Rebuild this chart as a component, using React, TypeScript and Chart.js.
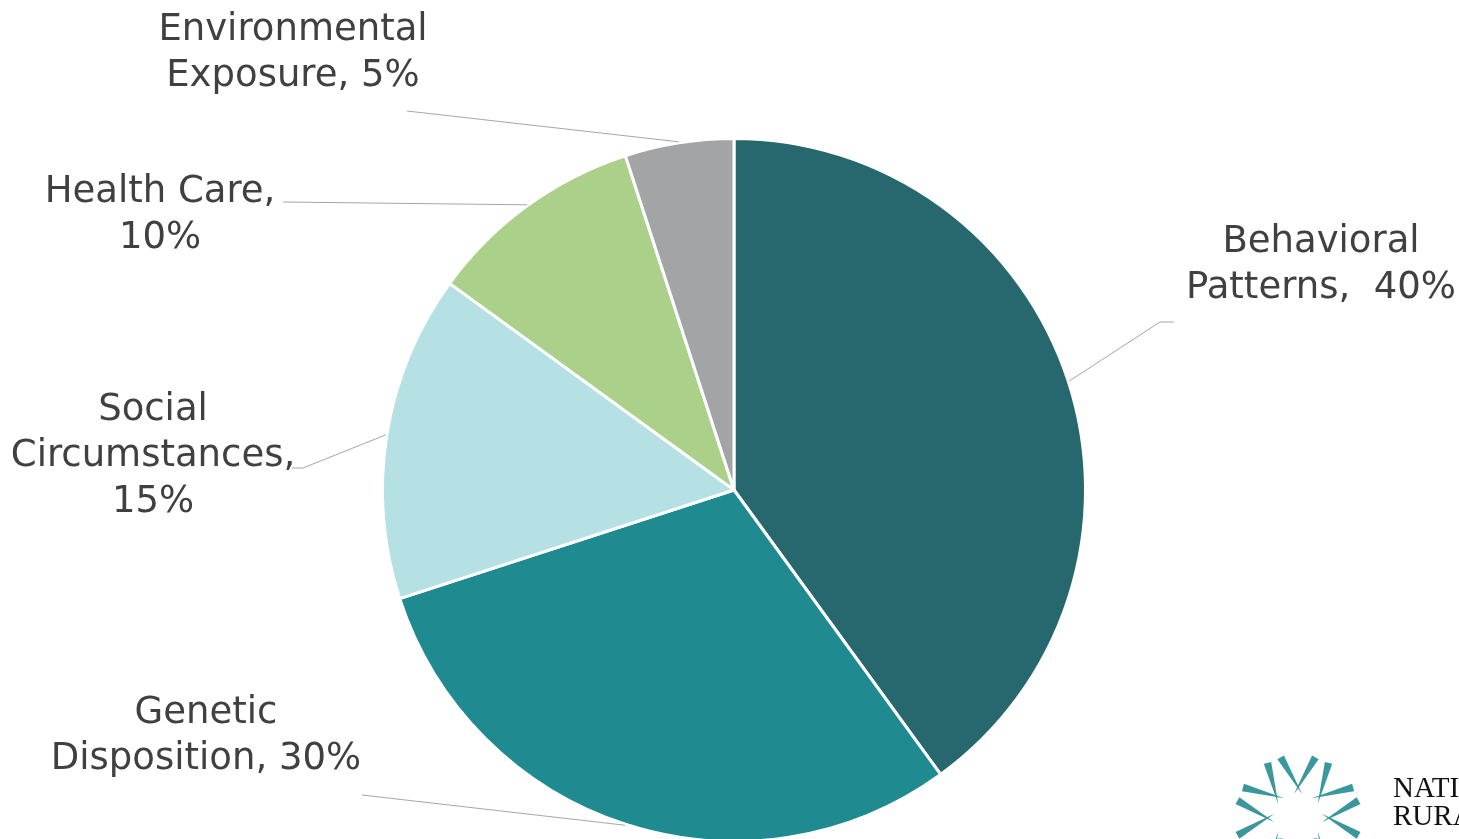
import React, { useEffect, useRef } from "react";
import { Chart, registerables } from "chart.js";

Chart.register(...registerables);

const categories = ["Behavioral Patterns", "Genetic Disposition", "Social Circumstances", "Health Care", "Environmental Exposure"];
const values = [40, 30, 15, 10, 5];
const colors = ["#26686D", "#1F8B91", "#B5E1E4", "#AAD08A", "#A3A4A6"];
const labelLines = [
  ["Behavioral", "Patterns,  40%"],
  ["Genetic", "Disposition, 30%"],
  ["Social", "Circumstances,", "15%"],
  ["Health Care,", "10%"],
  ["Environmental", "Exposure, 5%"],
];

// layout of labels: center x, first baseline y, and leader line start points
const labelLayout = [
  { x: 1321, y: 252, leader: [[1174, 322], [1160, 322]] },
  { x: 206, y: 723, leader: [[362, 795]] },
  { x: 153, y: 420, leader: [[292, 468], [303, 468]] },
  { x: 160, y: 202, leader: [[283, 202]] },
  { x: 293, y: 40, leader: [[407, 111]] },
];

const labelPlugin = {
  id: "pieLabels",
  afterDatasetsDraw(chart: any) {
    const ctx = chart.ctx;
    const meta = chart.getDatasetMeta(0);
    ctx.save();
    meta.data.forEach((arc: any, i: number) => {
      const p = arc.getProps(["x", "y", "startAngle", "endAngle", "outerRadius"], true);
      const mid = (p.startAngle + p.endAngle) / 2;
      const ex = p.x + Math.cos(mid) * (p.outerRadius + 1);
      const ey = p.y + Math.sin(mid) * (p.outerRadius + 1);
      const lay = labelLayout[i];
      ctx.strokeStyle = "#A6A6A6";
      ctx.lineWidth = 1;
      ctx.beginPath();
      lay.leader.forEach((pt, j) => {
        if (j === 0) ctx.moveTo(pt[0], pt[1]);
        else ctx.lineTo(pt[0], pt[1]);
      });
      ctx.lineTo(ex, ey);
      ctx.stroke();
      ctx.fillStyle = "#404040";
      ctx.font = "37px 'DejaVu Sans'";
      ctx.textAlign = "center";
      ctx.textBaseline = "alphabetic";
      labelLines[i].forEach((line, j) => {
        ctx.fillText(line, lay.x, lay.y + j * 46);
      });
    });

    // logo (bottom right)
    const cx = 1298, cy = 818;
    ctx.fillStyle = "#3A979B";
    const dirs = [0, 45, 90, 135, 180, 225, 270, 315];
    dirs.forEach((a) => {
      [-1, 1].forEach((s) => {
        const oa = (a + s * 16 - 90) * Math.PI / 180;
        const ia = (a - s * 10 - 90) * Math.PI / 180;
        const ox = cx + Math.cos(oa) * 63;
        const oy = cy + Math.sin(oa) * 63;
        const ix = cx + Math.cos(ia) * 24;
        const iy = cy + Math.sin(ia) * 24;
        const dx = ox - ix, dy = oy - iy;
        const len = Math.hypot(dx, dy);
        const nx = -dy / len * 3.8, ny = dx / len * 3.8;
        ctx.beginPath();
        ctx.moveTo(ix, iy);
        ctx.lineTo(ox + nx, oy + ny);
        ctx.lineTo(ox - nx, oy - ny);
        ctx.closePath();
        ctx.fill();
      });
    });
    ctx.fillStyle = "#111111";
    ctx.font = "29px 'Liberation Serif'";
    ctx.textAlign = "left";
    ctx.fillText("NATIONAL", 1393, 797);
    ctx.fillText("RURAL", 1393, 825);
    ctx.fillText("HEALTH", 1393, 858);
    ctx.restore();
  },
};

export default function App() {
  const ref = useRef<HTMLCanvasElement | null>(null);
  useEffect(() => {
    if (!ref.current) return;
    const chart = new Chart(ref.current, {
      type: "pie",
      data: {
        labels: categories,
        datasets: [
          {
            data: values,
            backgroundColor: colors,
            borderColor: "#FFFFFF",
            borderWidth: 3,
          },
        ],
      },
      options: {
        responsive: false,
        animation: false,
        devicePixelRatio: 1,
        layout: { padding: { left: 381, right: 372, top: 137, bottom: 137 } },
        plugins: {
          legend: { display: false },
          tooltip: { enabled: false },
        },
      },
      plugins: [labelPlugin],
    });
    return () => chart.destroy();
  }, []);
  return (
    <div style={{ position: "fixed", left: 0, top: 0, width: 1459, height: 839, overflow: "hidden", background: "#fff" }}>
      <canvas ref={ref} width={1459} height={980} style={{ display: "block" }} />
    </div>
  );
}
